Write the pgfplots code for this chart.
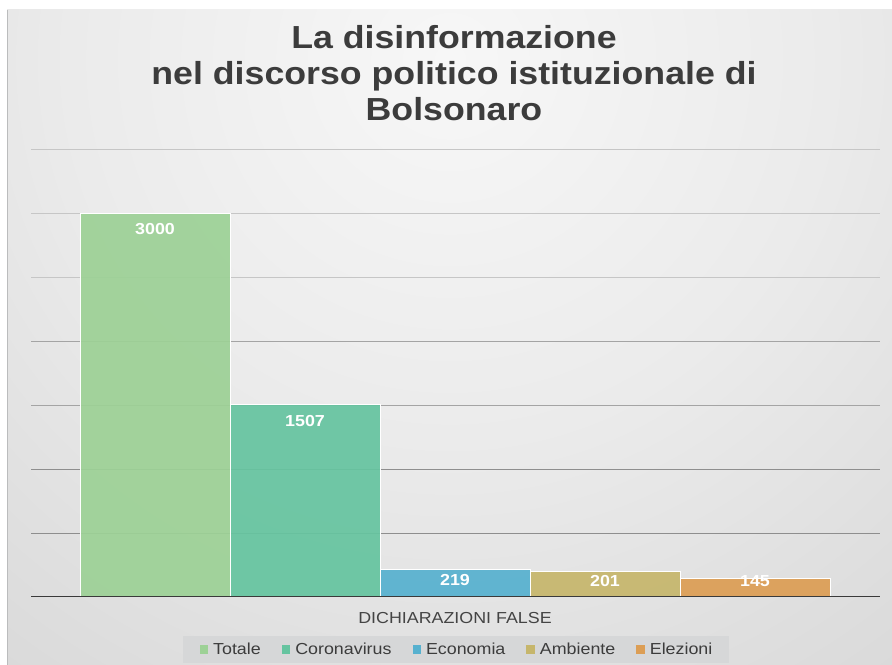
\documentclass[border=0pt]{standalone}
\usepackage{fontspec}
\setmainfont{Liberation Sans}[FakeStretch=1.12]
\usepackage{pgfplots}
\pgfplotsset{compat=1.18}
\definecolor{bg0}{HTML}{F7F7F7}
\definecolor{bg1}{HTML}{EBEBEB}
\definecolor{bg2}{HTML}{DDDDDD}
\definecolor{bg3}{HTML}{D3D3D3}
\definecolor{bg4}{HTML}{C9C9CA}
\definecolor{bg5}{HTML}{BBBCBD}
\pgfdeclareradialshading{bgshade}{\pgfpoint{0bp}{0bp}}{color(0bp)=(bg0); color(12.5bp)=(bg1); color(22.5bp)=(bg2); color(30bp)=(bg3); color(37.5bp)=(bg4); color(47.5bp)=(bg5); color(50bp)=(bg5)}
\definecolor{cTot}{HTML}{9DD196}
\definecolor{cCor}{HTML}{66C4A0}
\definecolor{cEco}{HTML}{57B1CF}
\definecolor{cAmb}{HTML}{C6B66C}
\definecolor{cEle}{HTML}{DC9E55}
\definecolor{grid1}{HTML}{8E8E8E}
\definecolor{grid2}{HTML}{A4A4A4}
\definecolor{grid3}{HTML}{C6C6C6}
\definecolor{axisline}{HTML}{3A3A3A}
\definecolor{titlec}{HTML}{3C3C3C}
\definecolor{labc}{HTML}{444444}
\definecolor{legbg}{HTML}{D6D7D8}
\begin{document}
\begin{tikzpicture}[x=1bp,y=1bp]
\useasboundingbox (0,0) rectangle (892,665);
\fill[white] (0,0) rectangle (892,665);
\begin{scope}
\clip (7,0) rectangle (892,655);
\shade[shading=bgshade] (450,605) circle (760bp);
\end{scope}
\draw[color=bg5, line width=0.8bp] (7,0) -- (7,655);
\begin{axis}[
  at={(31bp,68bp)}, anchor=south west, scale only axis,
  width=849bp, height=448bp,
  xmin=-0.8267, xmax=4.8333, ymin=0, ymax=3500,
  enlargelimits=false,
  ybar, bar width=1,
  /pgf/number format/.cd, 1000 sep={}, assume math mode=true, /pgfplots/.cd,
  axis line style={draw=none},
  tick style={draw=none},
  xtick=\empty,
  ytick={500,1000}, yticklabel=\empty,
  minor ytick={1500,2000},
  extra y ticks={2500,3000,3500}, extra y tick labels={},
  ymajorgrids=true, yminorgrids=true,
  major grid style={color=grid1, line width=0.9bp},
  minor grid style={color=grid2, line width=0.9bp},
  extra y tick style={ymajorgrids=true, major grid style={color=grid3, line width=0.9bp}},
  title={La disinformazione\\nel discorso politico istituzionale di\\Bolsonaro},
  title style={at={(axis description cs:0.4982,1.262)}, anchor=north, align=center, inner sep=0pt,
    font=\fontsize{32}{36}\selectfont\bfseries, text=titlec},
  xlabel={DICHIARAZIONI FALSE},
  xlabel style={at={(axis description cs:0.4994,-0.0466)}, anchor=center, inner sep=0pt,
    font=\fontsize{16}{19}\selectfont, text=labc},
  nodes near coords style={font=\fontsize{16}{19}\selectfont\bfseries, text=white, text opacity=1},
  legend columns=5,
  legend image code/.code={\path[#1, draw=none, fill opacity=1] (0bp,-4.25bp) rectangle (8.5bp,4.25bp);},
  legend style={at={(axis description cs:0.5006,-0.1172)}, anchor=center, fill=legbg, draw=none,
    inner xsep=17bp, inner ysep=7bp, font=\fontsize{16}{19}\selectfont, text=titlec,
    nodes={inner sep=0pt},
    /tikz/every odd column/.append style={column sep=5bp},
    /tikz/every even column/.append style={column sep=21bp}},
]
\addplot[fill=cTot, draw=white, line width=0.7bp, fill opacity=0.93, bar shift=0pt,
  nodes near coords, every node near coord/.append style={anchor=center, yshift=-16.5bp}]
  coordinates {(0,3000)};
\addlegendentry{Totale}
\addplot[fill=cCor, draw=white, line width=0.7bp, fill opacity=0.93, bar shift=0pt,
  nodes near coords, every node near coord/.append style={anchor=center, yshift=-16.5bp}]
  coordinates {(1,1507)};
\addlegendentry{Coronavirus}
\addplot[fill=cEco, draw=white, line width=0.7bp, fill opacity=0.93, bar shift=0pt,
  nodes near coords, every node near coord/.append style={anchor=center, yshift=-11.5bp}]
  coordinates {(2,219)};
\addlegendentry{Economia}
\addplot[fill=cAmb, draw=white, line width=0.7bp, fill opacity=0.93, bar shift=0pt,
  nodes near coords, every node near coord/.append style={anchor=center, yshift=-9.5bp}]
  coordinates {(3,201)};
\addlegendentry{Ambiente}
\addplot[fill=cEle, draw=white, line width=0.7bp, fill opacity=0.93, bar shift=0pt,
  nodes near coords, every node near coord/.append style={anchor=center, yshift=-3bp}]
  coordinates {(4,145)};
\addlegendentry{Elezioni}
\draw[color=axisline, line width=2.4bp] (rel axis cs:0,0) -- (rel axis cs:1,0);
\end{axis}
\end{tikzpicture}
\end{document}
